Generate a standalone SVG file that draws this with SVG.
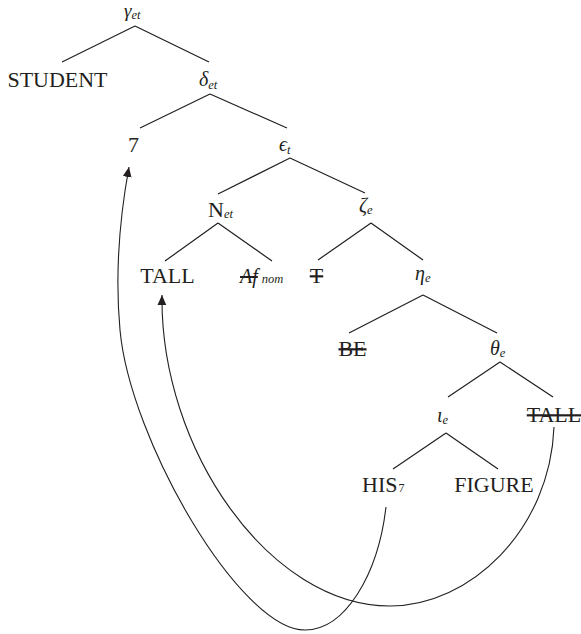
<svg xmlns="http://www.w3.org/2000/svg" width="581" height="634" viewBox="0 0 581 634" font-family="'Liberation Serif', 'DejaVu Serif', serif">
  <style>
    text { font-family: "Liberation Serif", "DejaVu Serif", serif; fill: #231f20; }
    .w { font-size: 22px; }
    .g { font-size: 20px; font-style: italic; }
    .s { font-size: 12.5px; font-style: italic; }
    .n { font-size: 12px; }
    .del { text-decoration: line-through; }
    .edge { stroke: #231f20; stroke-width: 1.2; fill: none; }
    .move { stroke: #231f20; stroke-width: 1.1; fill: none; marker-end: url(#head); }
  </style>
  <defs>
    <marker id="head" markerUnits="userSpaceOnUse" markerWidth="11" markerHeight="12" viewBox="0 0 11 12" refX="10" refY="5" orient="auto">
      <path d="M0,0.6 L10,5 L0,9.4 Z" fill="#231f20"/>
    </marker>
  </defs>

  <!-- tree nodes -->
  <g id="gamma"><text x="124" y="17"><tspan class="g" style="font-size:19px">γ</tspan><tspan class="s" dy="2">et</tspan></text></g>
  <g id="student"><text class="w" x="57.5" y="87" text-anchor="middle" textLength="100" lengthAdjust="spacingAndGlyphs">STUDENT</text></g>
  <g id="delta"><text x="199" y="86"><tspan class="g">δ</tspan><tspan class="s" dy="3">et</tspan></text></g>
  <g id="seven"><text class="w" x="133.5" y="152" text-anchor="middle">7</text></g>
  <g id="epsilon"><text x="279" y="151"><tspan class="g">ϵ</tspan><tspan class="s" dy="3">t</tspan></text></g>
  <g id="n-et"><text x="208" y="217"><tspan class="w">N</tspan><tspan class="s" dy="1">et</tspan></text></g>
  <g id="zeta"><text x="359" y="212"><tspan class="g">ζ</tspan><tspan class="s" dy="2">e</tspan></text></g>
  <g id="tall"><text class="w" x="167.5" y="283" text-anchor="middle">TALL</text></g>
  <g id="af-nom"><text x="240" y="283"><tspan class="g del">Af</tspan><tspan class="s" dx="4">nom</tspan></text></g>
  <g id="tense"><text class="w del" x="316.5" y="283" text-anchor="middle">T</text></g>
  <g id="eta"><text x="415" y="280"><tspan class="g">η</tspan><tspan class="s" dy="2">e</tspan></text></g>
  <g id="be"><text class="w del" x="352.5" y="356" text-anchor="middle">BE</text></g>
  <g id="theta"><text x="490" y="355"><tspan class="g">θ</tspan><tspan class="s" dy="2">e</tspan></text></g>
  <g id="iota"><text x="437" y="422"><tspan class="g">ι</tspan><tspan class="s" dy="2">e</tspan></text></g>
  <g id="tall-copy"><text class="w del" x="554" y="422" text-anchor="middle">TALL</text></g>
  <g id="his"><text x="362" y="492"><tspan class="w">HIS</tspan><tspan class="n" dx="1">7</tspan></text></g>
  <g id="figure"><text class="w" x="494" y="492" text-anchor="middle">FIGURE</text></g>

  <!-- connectors -->
  <g id="connectors">
    <path class="edge" d="M135,26 L62,62 M135,26 L209,62"/>
    <path class="edge" d="M210,94 L140,128 M210,94 L287,128"/>
    <path class="edge" d="M290,158 L218,194 M290,158 L365,193"/>
    <path class="edge" d="M218,223 L165,261 M218,223 L272,261"/>
    <path class="edge" d="M371,223 L318,260 M371,223 L423,260"/>
    <path class="edge" d="M423,295 L349,333 M423,295 L497,333"/>
    <path class="edge" d="M500,362 L448,397 M500,362 L553,397"/>
    <path class="edge" d="M446,433 L393,469 M446,433 L498,469"/>
    <!-- HIS7 bound by 7 -->
    <path class="move" d="M386,507 C378,575 345,630 305,630 C240,630 130,440 120,330 C114,264 122,205 129,167"/>
    <!-- TALL moved up -->
    <path class="move" d="M554,427 C550,530 470,606 390,606 C270,606 160,450 162,295"/>
  </g>
</svg>
